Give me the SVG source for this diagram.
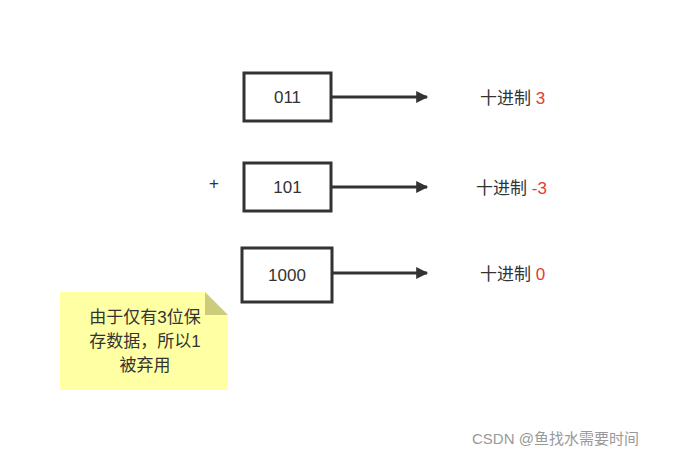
<svg xmlns="http://www.w3.org/2000/svg" width="698" height="458" viewBox="0 0 698 458">
<style>
.box{fill:#fff;stroke:#333;stroke-width:3}
.t{font-family:"Liberation Sans","Noto Sans CJK SC",sans-serif;font-size:17px;fill:#333}
.r{fill:#e53935}
.c{stroke:#333;stroke-width:3;fill:none}
</style>
<defs><marker id="a" viewBox="0 0 10 10" refX="9" refY="5" markerWidth="7" markerHeight="4" markerUnits="strokeWidth" orient="auto"><path d="M0,0 L10,5 L0,10 z" fill="#333"/></marker></defs>
<rect width="698" height="458" fill="#fff"/>
<g id="n1"><rect class="box" x="244" y="73" width="87" height="48"/><text class="t" x="287.5" y="103" text-anchor="middle">011</text></g>
<g id="n2"><rect class="box" x="244" y="163" width="87" height="48"/><text class="t" x="287.5" y="193" text-anchor="middle">101</text></g>
<g id="n3"><rect class="box" x="242" y="248" width="90" height="54"/><text class="t" x="287" y="281" text-anchor="middle">1000</text></g>
<g id="plus"><text class="t" x="214" y="189" text-anchor="middle" font-size="14">+</text></g>
<g id="l1"><text class="t" x="480" y="104">十进制 <tspan class="r">3</tspan></text></g>
<g id="l2"><text class="t" x="476" y="194">十进制 <tspan class="r">-3</tspan></text></g>
<g id="l3"><text class="t" x="480" y="280">十进制 <tspan class="r">0</tspan></text></g>
<g id="note"><path d="M60,292 H205 L228,315 V390 H60 Z" fill="#ffff99" opacity="0.9"/><path d="M205,292 V315 H228 Z" fill="#cccc7a"/>
<text class="t" x="145" y="323" text-anchor="middle">由于仅有3位保</text><text class="t" x="145" y="347" text-anchor="middle">存数据，所以1</text><text class="t" x="145" y="371" text-anchor="middle">被弃用</text></g>
<g id="connectors"><line class="c" x1="331" y1="97" x2="427" y2="97" marker-end="url(#a)"/><line class="c" x1="331" y1="187" x2="427" y2="187" marker-end="url(#a)"/><line class="c" x1="332" y1="273" x2="427" y2="273" marker-end="url(#a)"/></g>
<text x="472" y="444" font-family="Liberation Sans,Noto Sans CJK SC,sans-serif" font-size="15" fill="#999">CSDN @鱼找水需要时间</text>
</svg>
